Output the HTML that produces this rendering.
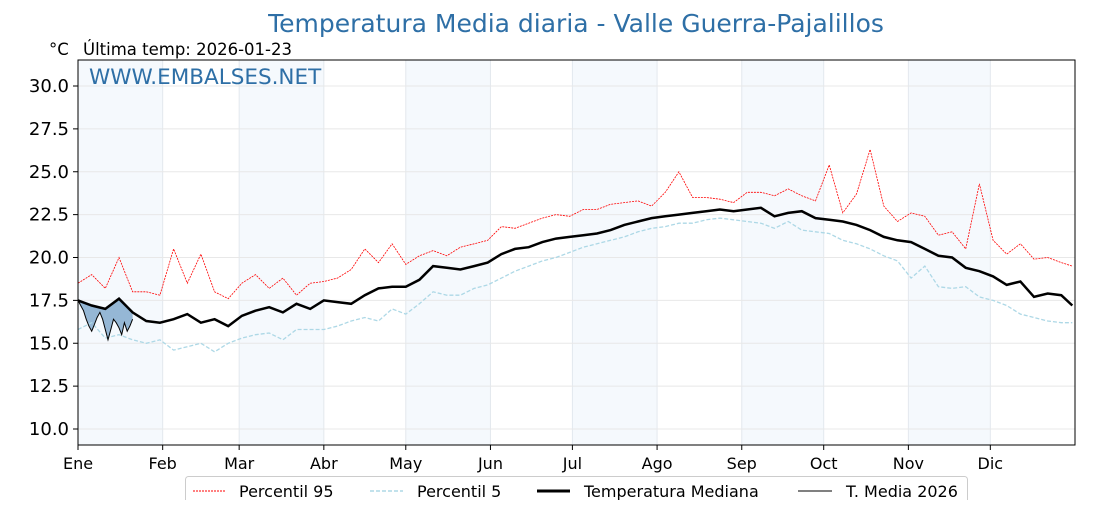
<!DOCTYPE html>
<html><head><meta charset="utf-8">
<style>
body{margin:0;background:#fff;}
svg text{font-family:"DejaVu Sans","Liberation Sans",sans-serif;}
</style></head>
<body>
<svg id="chart" width="1120" height="500" viewBox="0 0 1120 500" xmlns="http://www.w3.org/2000/svg">
<rect width="1120" height="500" fill="#fff"/>
<g id="bands"></g>
<g id="grid"></g>
<g id="series"></g>
<rect x="78" y="60" width="997" height="385" fill="none" stroke="#000" stroke-width="1"/>
<g id="axes"></g>
<text x="576" y="32" text-anchor="middle" font-size="25" fill="#2e6fa6">Temperatura Media diaria - Valle Guerra-Pajalillos</text>
<text x="49" y="55" font-size="16.5" fill="#000">°C</text>
<text x="83" y="55" font-size="16.5" fill="#000">Última temp: 2026-01-23</text>
<text x="89" y="84" font-size="21.5" fill="#2e6fa6">WWW.EMBALSES.NET</text>
<g>
<rect x="185.5" y="476.5" width="782" height="30" rx="3" fill="#fff" stroke="#ccc"/>
<line x1="193" y1="491" x2="225" y2="491" stroke="red" stroke-width="1" stroke-dasharray="2,1"/>
<text x="239" y="497" font-size="16">Percentil 95</text>
<line x1="370" y1="491" x2="403" y2="491" stroke="#add8e6" stroke-width="1.5" stroke-dasharray="4,2"/>
<text x="417" y="497" font-size="16">Percentil 5</text>
<line x1="537" y1="491" x2="570" y2="491" stroke="#000" stroke-width="3"/>
<text x="584" y="497" font-size="16">Temperatura Mediana</text>
<line x1="798" y1="491" x2="832" y2="491" stroke="#000" stroke-width="1"/>
<text x="846" y="497" font-size="16">T. Media 2026</text>
</g>
</svg>
<script>
const days = [0,5,10,15,20,25,30,35,40,45,50,55,60,65,70,75,80,85,90,95,100,105,110,115,120,125,130,135,140,145,150,155,160,165,170,175,180,185,190,195,200,205,210,215,220,225,230,235,240,245,250,255,260,265,270,275,280,285,290,295,300,305,310,315,320,325,330,335,340,345,350,355,360,364];
const median = [17.5,17.2,17.0,17.6,16.8,16.3,16.2,16.4,16.7,16.2,16.4,16.0,16.6,16.9,17.1,16.8,17.3,17.0,17.5,17.4,17.3,17.8,18.2,18.3,18.3,18.7,19.5,19.4,19.3,19.5,19.7,20.2,20.5,20.6,20.9,21.1,21.2,21.3,21.4,21.6,21.9,22.1,22.3,22.4,22.5,22.6,22.7,22.8,22.7,22.8,22.9,22.4,22.6,22.7,22.3,22.2,22.1,21.9,21.6,21.2,21.0,20.9,20.5,20.1,20.0,19.4,19.2,18.9,18.4,18.6,17.7,17.9,17.8,17.2];
const p95 = [18.5,19.0,18.2,20.0,18.0,18.0,17.8,20.5,18.5,20.2,18.0,17.6,18.5,19.0,18.2,18.8,17.8,18.5,18.6,18.8,19.3,20.5,19.7,20.8,19.6,20.1,20.4,20.1,20.6,20.8,21.0,21.8,21.7,22.0,22.3,22.5,22.4,22.8,22.8,23.1,23.2,23.3,23.0,23.8,25.0,23.5,23.5,23.4,23.2,23.8,23.8,23.6,24.0,23.6,23.3,25.4,22.6,23.7,26.3,23.0,22.1,22.6,22.4,21.3,21.5,20.5,24.3,21.0,20.2,20.8,19.9,20.0,19.7,19.5];
const p5 = [15.8,16.2,15.3,15.5,15.2,15.0,15.2,14.6,14.8,15.0,14.5,15.0,15.3,15.5,15.6,15.2,15.8,15.8,15.8,16.0,16.3,16.5,16.3,17.0,16.7,17.3,18.0,17.8,17.8,18.2,18.4,18.8,19.2,19.5,19.8,20.0,20.3,20.6,20.8,21.0,21.2,21.5,21.7,21.8,22.0,22.0,22.2,22.3,22.2,22.1,22.0,21.7,22.1,21.6,21.5,21.4,21.0,20.8,20.5,20.1,19.8,18.8,19.5,18.3,18.2,18.3,17.7,17.5,17.2,16.7,16.5,16.3,16.2,16.2];
const cur = [17.5,17.2,16.9,16.4,16.0,15.7,16.1,16.5,16.8,16.4,15.8,15.2,15.8,16.4,16.2,15.9,15.5,16.2,15.7,16.0,16.4];
const yTicks = [10.0,12.5,15.0,17.5,20.0,22.5,25.0,27.5,30.0];
const monthLabels = ["Ene","Feb","Mar","Abr","May","Jun","Jul","Ago","Sep","Oct","Nov","Dic"];
const monthStarts = [0,31,59,90,120,151,181,212,243,273,304,334];

const NS="http://www.w3.org/2000/svg";
const X0=78,X1=1075,Y0=60,Y1=445;
const x=d=>X0+d*(X1-X0)/365;
const y=v=>86+(30-v)*(429-86)/20;
function mk(tag,attrs,parent){const e=document.createElementNS(NS,tag);for(const k in attrs)e.setAttribute(k,attrs[k]);parent.appendChild(e);return e;}
const bands=document.getElementById('bands'),grid=document.getElementById('grid'),series=document.getElementById('series'),axes=document.getElementById('axes');
monthStarts.forEach((m,i)=>{
  const end=i<11?monthStarts[i+1]:365;
  if(i%2===0&&i<11){const r=mk('rect',{x:x(m),y:Y0,width:x(end)-x(m),height:Y1-Y0,fill:'#f5f9fd'},bands);
  
  }
  const g=mk('line',{x1:x(m),x2:x(m),y1:Y0,y2:Y1,stroke:'#e3e8ee','stroke-width':1},grid);
  
  
  const t=mk('line',{x1:x(m),x2:x(m),y1:Y1,y2:Y1+5,stroke:'#000'},axes);
  
  
  const l=mk('text',{x:x(m),y:469,'text-anchor':'middle','font-size':16},axes);
  l.textContent=monthLabels[i];
  
  
});
yTicks.forEach(v=>{
  const g=mk('line',{x1:X0,x2:X1,y1:y(v),y2:y(v),stroke:'#e8e8e8'},grid);
  
  
  const t=mk('line',{x1:X0-5,x2:X0,y1:y(v),y2:y(v),stroke:'#000'},axes);
  
  
  const l=mk('text',{x:X0-9,y:y(v)+6,'text-anchor':'end','font-size':18},axes);
  l.textContent=v.toFixed(1);
  
  
});
const pts=(ds,vs)=>vs.map((v,i)=>x(ds[i]).toFixed(1)+','+y(v).toFixed(1)).join(' ');
function medAt(d){for(let i=0;i<days.length-1;i++){if(d<=days[i+1]){const t=(d-days[i])/(days[i+1]-days[i]);return median[i]+t*(median[i+1]-median[i]);}}return median[median.length-1];}
const curDays=cur.map((_,i)=>i);
const fillPts=cur.map((v,i)=>x(i)+','+y(v)).concat(curDays.slice().reverse().map(d=>x(d)+','+y(medAt(d)))).join(' ');
const f=mk('polygon',{points:fillPts,fill:'#4682b4','fill-opacity':0.55,stroke:'none'},series);


const a=mk('polyline',{points:pts(days,p95),fill:'none',stroke:'red','stroke-width':0.8,'stroke-dasharray':'2,1'},series);


const b=mk('polyline',{points:pts(days,p5),fill:'none',stroke:'#add8e6','stroke-width':1.3,'stroke-dasharray':'4,2'},series);


const c=mk('polyline',{points:pts(days,median),fill:'none',stroke:'#000','stroke-width':2.5},series);


const d=mk('polyline',{points:pts(curDays,cur),fill:'none',stroke:'#000','stroke-width':1},series);


</script>
</body></html>
